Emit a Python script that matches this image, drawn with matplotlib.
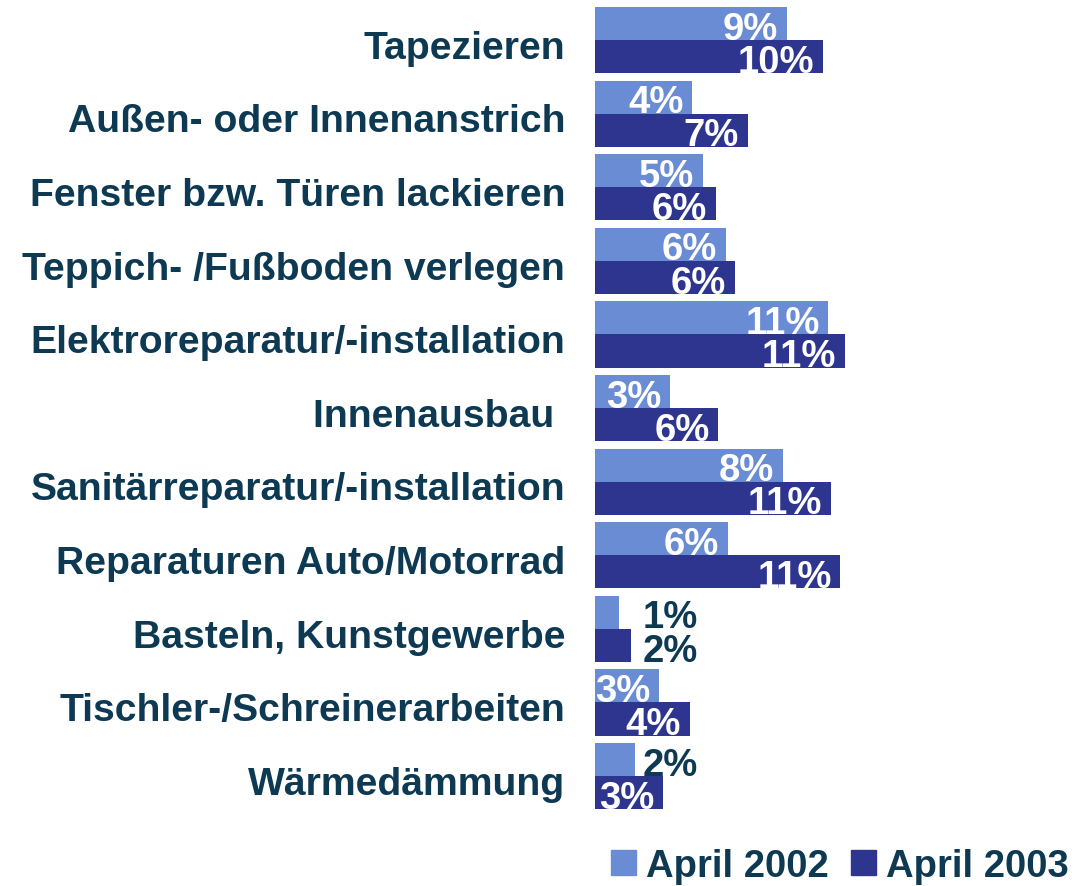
import numpy as np
import matplotlib.pyplot as plt
from matplotlib.patches import Patch

# ========== DATOS ==========
categorias = ['Tapezieren', 'Außen- oder Innenanstrich', 'Fenster bzw. Türen lackieren',
              'Teppich- /Fußboden verlegen', 'Elektroreparatur/-installation', 'Innenausbau ',
              'Sanitärreparatur/-installation', 'Reparaturen Auto/Motorrad',
              'Basteln, Kunstgewerbe', 'Tischler-/Schreinerarbeiten', 'Wärmedämmung']
april_2002 = [8.8, 4.45, 4.95, 6.0, 10.7, 3.45, 8.6, 6.1, 1.1, 2.95, 1.85]
april_2003 = [10.45, 7.0, 5.55, 6.4, 11.45, 5.65, 10.8, 11.25, 1.65, 4.35, 3.1]
etiquetas_2002 = ['9%', '4%', '5%', '6%', '11%', '3%', '8%', '6%', '1%', '3%', '2%']
etiquetas_2003 = ['10%', '7%', '6%', '6%', '11%', '6%', '11%', '11%', '2%', '4%', '3%']

color_claro = '#6a8cd4'
color_oscuro = '#2e358f'
color_texto = '#0d3a52'

plt.rcParams['font.family'] = ['Liberation Sans', 'DejaVu Sans']

fig = plt.figure(figsize=(10.75, 8.87), dpi=100)
ax = fig.add_axes([595 / 1075, 0.0825, 480 / 1075, 0.9127])

y = np.arange(len(categorias))
alto = 0.45
ax.barh(y - alto / 2, april_2002, height=alto, color=color_claro)
ax.barh(y + alto / 2, april_2003, height=alto, color=color_oscuro)

# etiquetas de valor
for serie, etiquetas, desplaz in [(april_2002, etiquetas_2002, -alto / 2),
                                  (april_2003, etiquetas_2003, alto / 2)]:
    for i, (v, t) in enumerate(zip(serie, etiquetas)):
        if v >= 2.5:
            ax.text(v - 0.4, i + desplaz + 0.07, t, ha='right', va='center',
                    color='white', fontsize=27.5, fontweight='bold')
        else:
            ax.text(max(v + 0.35, 2.2), i + desplaz + 0.07, t, ha='left', va='center',
                    color=color_texto, fontsize=27.5, fontweight='bold')

ax.set_xlim(0, 22.0)
ax.set_ylim(10.5, -0.5)
ax.set_yticks(y + 0.05)
ax.set_yticklabels(categorias, fontsize=28.2, fontweight='bold', color=color_texto)
ax.tick_params(axis='y', length=0, pad=21.5)
ax.set_xticks([])
for s in ax.spines.values():
    s.set_visible(False)

handles = [Patch(color=color_claro, label='April 2002'),
           Patch(color=color_oscuro, label='April 2003')]
leg = fig.legend(handles=handles, loc='lower right', bbox_to_anchor=(1.008, -0.015), ncol=2,
                 frameon=False, handlelength=0.65, handleheight=0.65, handletextpad=0.25,
                 columnspacing=0.6, borderaxespad=0.0,
                 prop={'size': 27.5, 'weight': 'bold'})
for t in leg.get_texts():
    t.set_color(color_texto)

plt.savefig('out.png', dpi=100)
